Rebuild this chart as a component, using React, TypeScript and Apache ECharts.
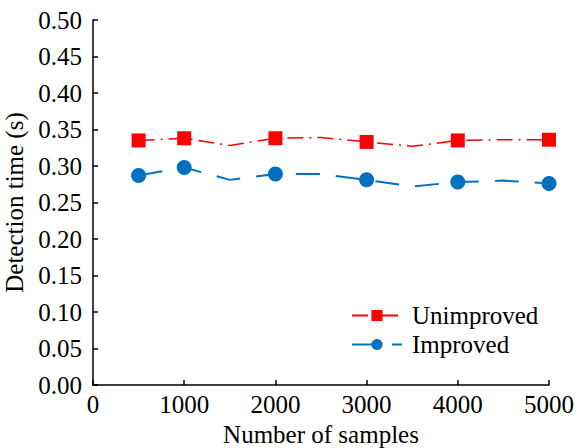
import React, { useEffect, useRef } from "react";
import * as echarts from "echarts";

const samples = [500, 1000, 1500, 2000, 2500, 3000, 3500, 4000, 4500, 5000];
const markedSamples = [500, 1000, 2000, 3000, 4000, 5000];
const unimproved = [0.335, 0.338, 0.328, 0.338, 0.339, 0.333, 0.327, 0.335, 0.336, 0.336];
const improved = [0.287, 0.298, 0.281, 0.289, 0.289, 0.281, 0.272, 0.278, 0.280, 0.276];
const seriesNames = ["Unimproved", "Improved"];

const FONT = "Liberation Serif";
const FS = 25;

function buildData(values: number[]) {
  return samples.map((s, i) =>
    markedSamples.includes(s)
      ? { value: [s, values[i]] }
      : { value: [s, values[i]], symbol: "none" }
  );
}

export default function App() {
  const ref = useRef<HTMLDivElement>(null);
  useEffect(() => {
    document.body.style.margin = "0";
    const chart = echarts.init(ref.current!, null, { renderer: "svg" });
    chart.setOption({
      animation: false,
      backgroundColor: "#ffffff",
      textStyle: { fontFamily: FONT },
      grid: {
        left: 93,
        right: 29,
        top: 20,
        bottom: 63,
        containLabel: false,
        outerBoundsMode: "none",
      },
      legend: {
        orient: "vertical",
        left: 351,
        top: 303,
        padding: 0,
        itemWidth: 50,
        itemHeight: 14,
        itemGap: 4,
        data: seriesNames,
        textStyle: { fontFamily: FONT, fontSize: FS, color: "#000", padding: [0, 0, 0, 5] },
      },
      xAxis: {
        type: "value",
        min: 0,
        max: 5000,
        interval: 1000,
        name: "Number of samples",
        nameLocation: "middle",
        nameGap: 32,
        nameTextStyle: { fontFamily: FONT, fontSize: FS, color: "#000" },
        axisLine: { show: true, lineStyle: { color: "#000", width: 1.5 } },
        axisTick: { show: true, inside: true, length: 5, lineStyle: { color: "#000", width: 1.5 } },
        axisLabel: {
          fontFamily: FONT,
          fontSize: FS,
          color: "#000",
          margin: 7,
          formatter: (v: number) => String(v),
        },
        splitLine: { show: false },
      },
      yAxis: {
        type: "value",
        min: 0,
        max: 0.5,
        interval: 0.05,
        name: "Detection time (s)",
        nameLocation: "middle",
        nameGap: 55,
        nameTextStyle: { fontFamily: FONT, fontSize: FS, color: "#000" },
        axisLine: { show: true, lineStyle: { color: "#000", width: 1.5 } },
        axisTick: { show: true, inside: true, length: 5, lineStyle: { color: "#000", width: 1.5 } },
        axisLabel: {
          fontFamily: FONT,
          fontSize: FS,
          color: "#000",
          margin: 11,
          formatter: (v: number) => v.toFixed(2),
        },
        splitLine: { show: false },
      },
      series: [
        {
          name: seriesNames[0],
          type: "line",
          data: buildData(unimproved),
          symbol: "rect",
          symbolSize: 14,
          itemStyle: { color: "#ff0000" },
          lineStyle: { color: "#ff0000", width: 1.5, type: [16, 6, 2, 6] },
        },
        {
          name: seriesNames[1],
          type: "line",
          data: buildData(improved),
          symbol: "circle",
          symbolSize: 15,
          itemStyle: { color: "#0070c0" },
          lineStyle: { color: "#0070c0", width: 2, type: [24, 16] },
        },
      ],
    });
    return () => chart.dispose();
  }, []);
  return (
    <div
      ref={ref}
      style={{ position: "absolute", left: 0, top: 0, width: 578, height: 448 }}
    />
  );
}
